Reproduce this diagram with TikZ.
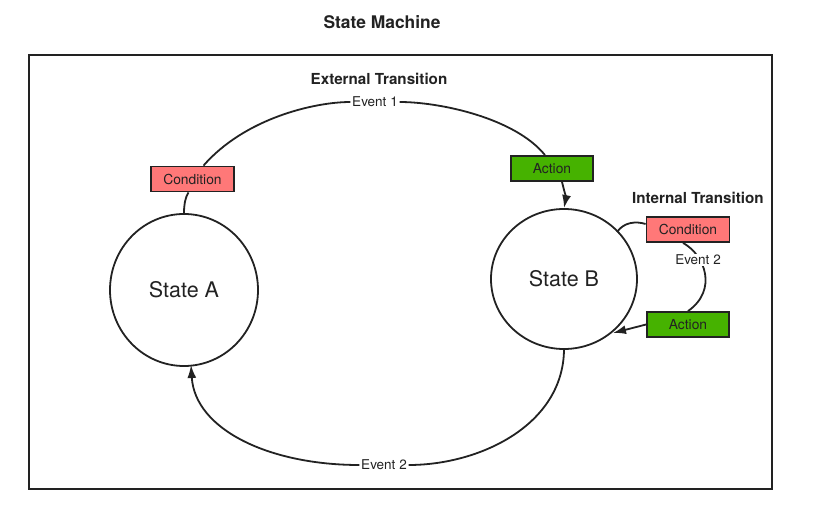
\documentclass[tikz,border=0pt]{standalone}
\usepackage{fontspec}
\setmainfont{TeX Gyre Heros}
\usetikzlibrary{arrows.meta,calc,shapes.geometric}
\definecolor{condred}{RGB}{255,120,120}
\definecolor{actgreen}{RGB}{70,178,0}
\definecolor{inkgray}{RGB}{34,34,34}
\begin{document}
\begin{tikzpicture}[x=1pt,y=-1pt,
  line width=1.8pt, draw=inkgray,
  state/.style={draw=inkgray, ellipse, line width=1.8pt, font=\fontsize{21.5}{24}\selectfont, text=inkgray},
  condbox/.style={draw=inkgray, line width=1.8pt, fill=condred, minimum width=83pt, minimum height=25pt, inner sep=0pt, font=\fontsize{13.8}{15}\selectfont, text=inkgray},
  actbox/.style={draw=inkgray, line width=1.8pt, fill=actgreen, minimum width=82pt, minimum height=25pt, inner sep=0pt, font=\fontsize{13.8}{15}\selectfont, text=inkgray},
  evlabel/.style={fill=white, inner sep=1pt, font=\fontsize{13.5}{15}\selectfont, text=inkgray},
  heading/.style={font=\bfseries\fontsize{15.2}{17}\selectfont, text=inkgray},
  conn/.style={draw=inkgray, line width=1.8pt},
  arr/.style={conn, -{Latex[length=13pt,width=9pt]}}
]
\useasboundingbox (0,0) rectangle (828,513);
\node[heading, font=\bfseries\fontsize{17.4}{19}\selectfont] (title) at (382,22) {State Machine};
\node[draw=inkgray, line width=1.8pt, minimum width=743pt, minimum height=434pt, inner sep=0pt] (frame) at (400.5,272) {};
\node[heading] (ext) at (379,79) {External Transition};
\node[heading] (int) at (698,198) {Internal Transition};

\node[state, minimum width=148pt, minimum height=152pt, inner sep=0pt] (A) at (184,290) {State A};
\node[state, minimum width=146pt, minimum height=140pt, inner sep=0pt] (B) at (564,279) {State B};

\node[condbox] (c1) at (192.5,179) {Condition};
\node[actbox] (a1) at (552,168.5) {Action};
\node[condbox] (c2) at (688,229.5) {Condition};
\node[actbox] (a2) at (688,324.5) {Action};

\node[evlabel] (e1) at (375,102) {Event 1};
\node[evlabel] (e2) at (384,465) {Event 2};

% State A -> Condition
\draw[conn] (A.north) .. controls (184,205) and (185,198) .. ($(c1.south)+(-4,0)$);
% Condition -> Event 1 -> Action
\draw[conn] ($(c1.north)+(11,0)$) .. controls (245,118) and (315,102) .. (e1.west);
\draw[conn] (e1.east) .. controls (440,102) and (515,118) .. ($(a1.north)+(-7,0)$);
% Action -> State B
\draw[arr] ($(a1.south)+(10,0)$) .. controls (564,190) and (566,198) .. (B.north);
% State B -> Event 2 -> State A
\draw[conn] (B.south) .. controls (563,425) and (480,465) .. (e2.east);
\draw[arr] (e2.west) .. controls (270,465) and (195,430) .. (191,365);

% Internal transition
\coordinate (bq) at (617,232);
\draw[conn] (bq) .. controls (624,222) and (636,221) .. ($(c2.west)+(0,-5.5)$);
\draw[conn] ($(c2.south)+(-5,0)$) .. controls (705,255) and (718,290) .. (a2.north);
\node[evlabel] (e3) at (698,260) {Event 2};
\draw[arr] (a2.west) -- (613,333);
\end{tikzpicture}
\end{document}
